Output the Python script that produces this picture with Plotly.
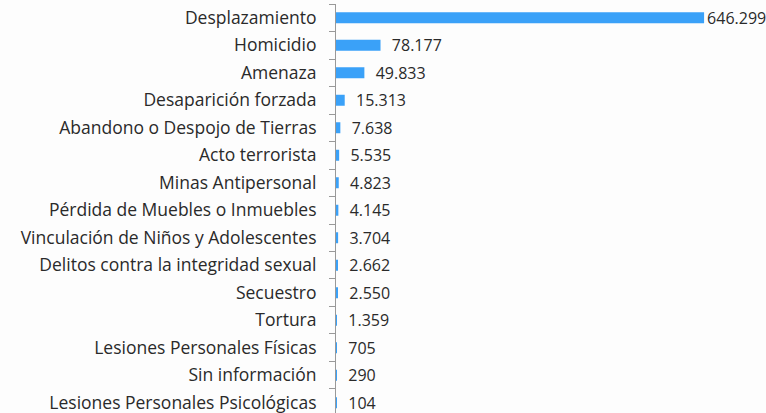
import plotly.graph_objects as go

categories = [
    "Desplazamiento", "Homicidio", "Amenaza", "Desaparición forzada",
    "Abandono o Despojo de Tierras", "Acto terrorista", "Minas Antipersonal",
    "Pérdida de Muebles o Inmuebles", "Vinculación de Niños y Adolescentes",
    "Delitos contra la integridad sexual", "Secuestro", "Tortura",
    "Lesiones Personales Físicas", "Sin información",
    "Lesiones Personales Psicológicas",
]
values = [646299, 78177, 49833, 15313, 7638, 5535, 4823, 4145, 3704,
          2662, 2550, 1359, 705, 290, 104]

labels = [f"{v:,}".replace(",", ".") for v in values]
texts = [labels[0]] + ["  " + t for t in labels[1:]]

fig = go.Figure(go.Bar(
    x=values, y=categories, orientation="h",
    marker=dict(color="#3AA1F8", line=dict(width=0)),
    text=texts, textposition="outside", cliponaxis=False,
    constraintext="none",
    textfont=dict(family="Open Sans", size=16, color="#2a2a2a"),
))

fig.update_layout(
    width=766, height=413,
    margin=dict(l=336, r=0, t=4, b=0, autoexpand=False),
    paper_bgcolor="#fdfdfd", plot_bgcolor="#fdfdfd",
    bargap=0.6, showlegend=False,
    font=dict(family="Open Sans", size=17.5, color="#2a2a2a"),
)
fig.update_xaxes(range=[0, 755000], visible=False, showgrid=False, zeroline=False)
fig.update_yaxes(
    type="category", range=[14.373, -0.5],
    showline=True, linecolor="#999999", linewidth=1,
    ticks="outside", ticklen=6, tickcolor="#999999", tickson="boundaries",
    ticklabelstandoff=15, showgrid=False, zeroline=False,
    tickfont=dict(family="Open Sans", size=17.5, color="#2a2a2a"),
)

fig.write_html(
    "out.html",
    config={"displayModeBar": False},
    post_script="document.body.style.margin='0';document.body.style.overflow='hidden';",
)
